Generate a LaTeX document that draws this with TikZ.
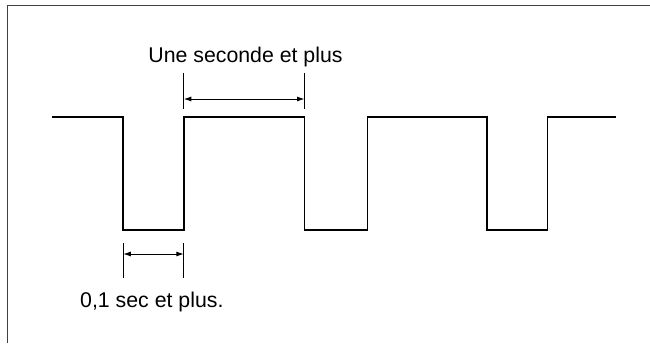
\documentclass[tikz,border=0pt]{standalone}
\usepackage{fontspec}
\setmainfont{Liberation Sans}
\usetikzlibrary{arrows.meta}
\begin{document}
\begin{tikzpicture}[x=1pt,y=1pt,
  wave/.style={line width=1.8pt,line join=miter},
  frame/.style={line width=1.6pt,draw=black!75},
  tick/.style={line width=0.9pt},
  dim/.style={line width=0.9pt,{Latex[length=7.5pt,width=5pt]}-{Latex[length=7.5pt,width=5pt]}},
  lbl/.style={font=\fontsize{21.3}{24}\selectfont,inner sep=0pt}]
\useasboundingbox (0,0) rectangle (650,343);
% frame (top and left)
\draw[frame] (7.5,0) -- (7.5,337.5) -- (650,337.5);
% waveform
\coordinate (s) at (52,226.3);
\coordinate (f1) at (123.3,226.3);
\coordinate (r1) at (183.8,226.3);
\coordinate (f2) at (304.5,226.3);
\coordinate (r2) at (367.5,226.3);
\coordinate (f3) at (486.7,226.3);
\coordinate (r3) at (547.5,226.3);
\coordinate (e) at (616,226.3);
\draw[wave] (s) -- (f1) -- ++(0,-113.3) -| (r1) -- (f2) -- ++(0,-113.3) -| (r2) -- (f3) -- ++(0,-113.3) -| (r3) -- (e);
% upper dimension
\coordinate (ua1) at (183.8,270);
\coordinate (ua2) at (183.8,234);
\coordinate (ub1) at (304.5,270);
\coordinate (ub2) at (304.5,234);
\draw[tick] (ua1) -- (ua2);
\draw[tick] (ub1) -- (ub2);
\coordinate (ul) at (183.8,244);
\coordinate (ur) at (304.5,244);
\draw[dim] (ul) -- (ur);
\node[lbl,anchor=base] (t1) at (245.5,280.7) {Une seconde et plus};
% lower dimension
\coordinate (la1) at (123.3,100);
\coordinate (la2) at (123.3,65);
\coordinate (lb1) at (183.8,100);
\coordinate (lb2) at (183.8,65);
\draw[tick] (la1) -- (la2);
\draw[tick] (lb1) -- (lb2);
\coordinate (ll) at (123.3,89);
\coordinate (lr) at (183.8,89);
\draw[dim] (ll) -- (lr);
\node[lbl,anchor=base west] (t2) at (80,35.3) {0,1 sec et plus.};
\end{tikzpicture}
\end{document}
